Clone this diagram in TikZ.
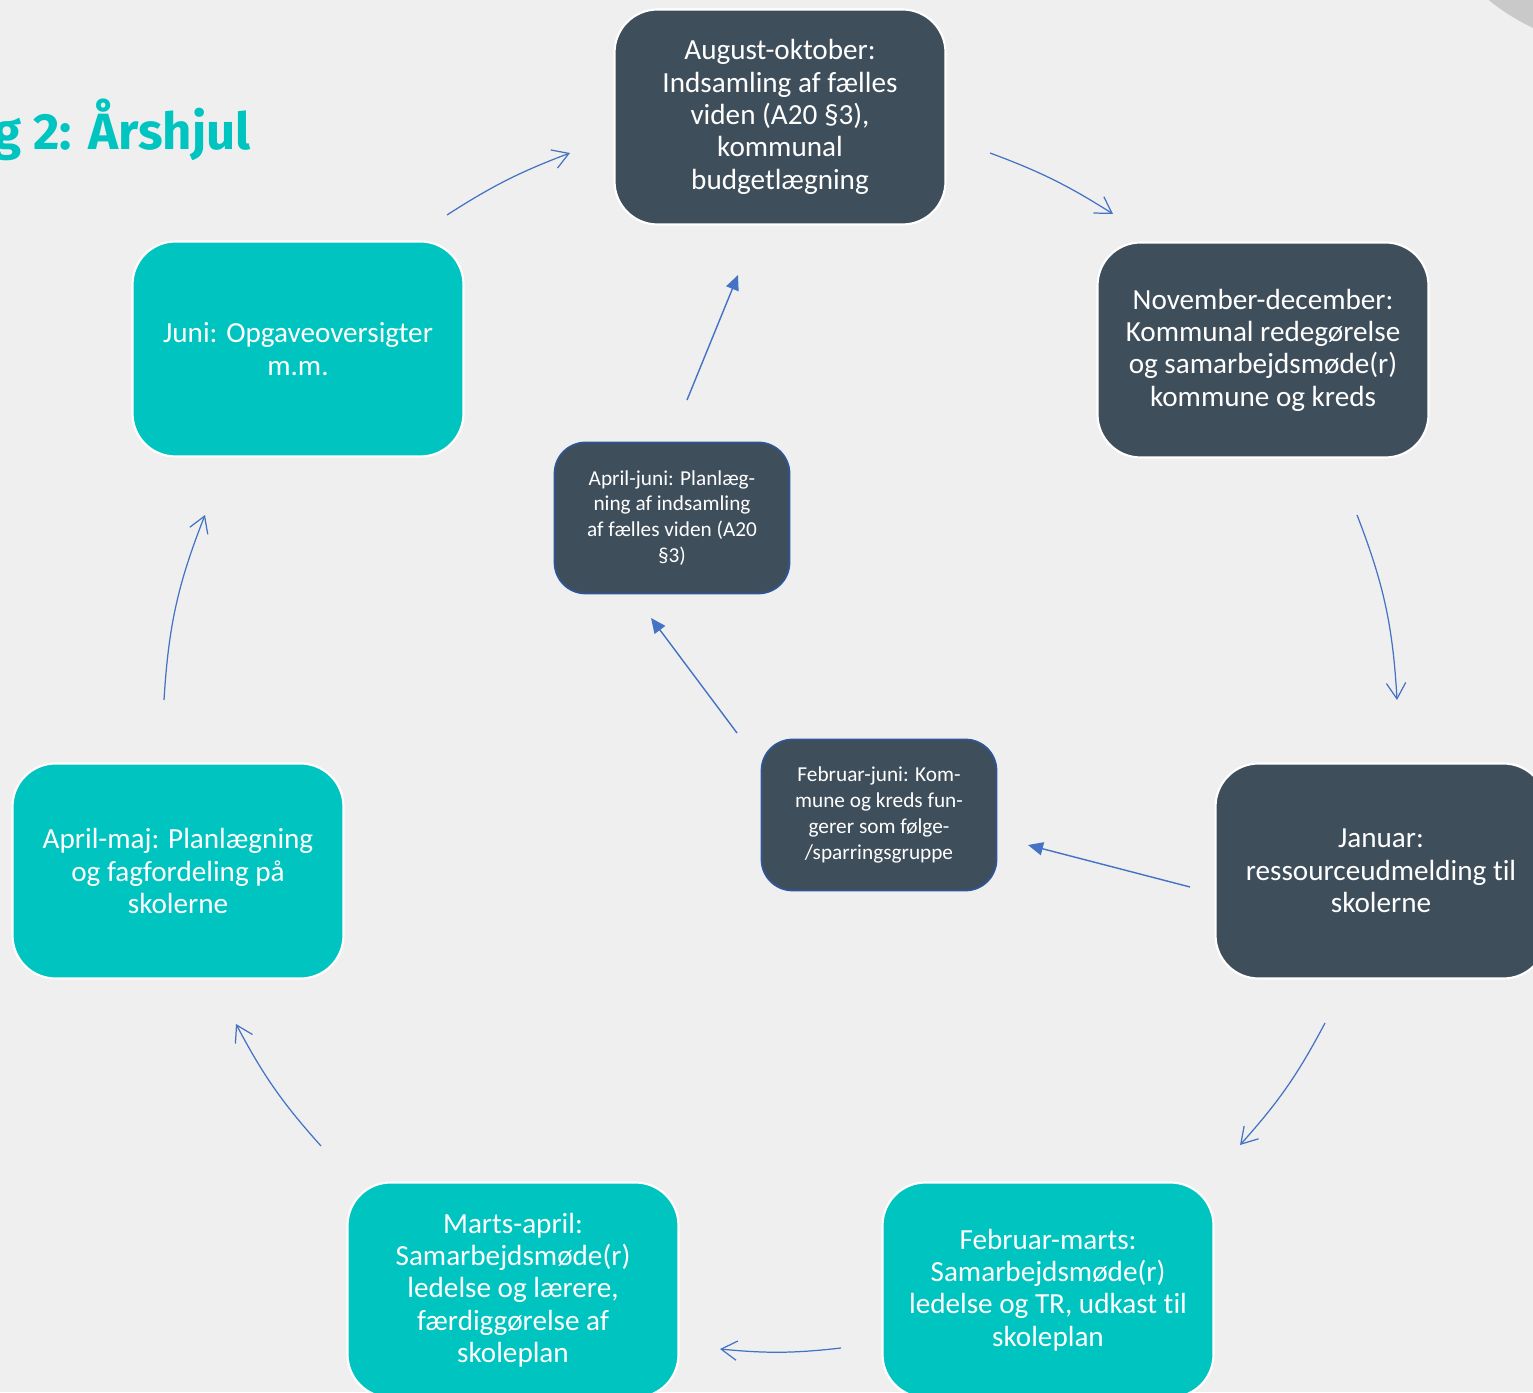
\documentclass[tikz,border=0pt]{standalone}
\usepackage{fontspec}
\setmainfont[Ligatures=NoCommon]{Carlito}
\newfontfamily\titlefont{Fira Sans}
\usetikzlibrary{arrows.meta}
\definecolor{bggray}{HTML}{EFEFEF}
\definecolor{slate}{HTML}{3F4E5B}
\definecolor{aqua}{HTML}{00C4C0}
\definecolor{arrowblue}{HTML}{4472C4}
\definecolor{edgeblue}{HTML}{2F5597}
\definecolor{discgray}{HTML}{C9C9C9}
\tikzset{
  bigbox/.style={rounded corners=0.86cm, draw=white, line width=1.2pt,
    minimum width=6.62cm, minimum height=4.3cm, inner sep=0pt,
    text=white, align=center, font=\fontsize{16.6}{18.4}\selectfont},
  darkbox/.style={bigbox, fill=slate},
  aquabox/.style={bigbox, fill=aqua},
  smallbox/.style={rounded corners=0.62cm, draw=edgeblue, line width=1pt,
    fill=slate, minimum width=4.7cm, minimum height=3.02cm, inner sep=0pt,
    text=white, align=center, font=\fontsize{12.1}{14.75}\selectfont},
  cyclearrow/.style={arrowblue, line width=0.7pt, -{Straight Barb[length=9pt,width=11pt]}},
  innerarrow/.style={arrowblue, line width=0.8pt, -{Triangle[length=8.5pt,width=7.5pt]}}
}
\begin{document}
\begin{tikzpicture}[x=0.02cm,y=0.02cm]
\useasboundingbox (0,0) rectangle (1533,1392);
\clip (0,0) rectangle (1533,1392);
\fill[bggray] (0,0) rectangle (1533,1392);
\fill[discgray] (1627,1563) circle[radius=220];
%% the title
\node[anchor=base west, text=aqua, inner sep=0pt,
  font=\titlefont\bfseries\fontsize{29}{34}\selectfont] (title) at (-7,1242) {g 2: Årshjul};
%% the outer ring
\node[darkbox] (aug) at (780,1275) {August-oktober:\\Indsamling af fælles\\viden (A20 §3),\\kommunal\\budgetlægning};
\node[darkbox] (nov) at (1263,1042) {November-december:\\Kommunal redegørelse\\og samarbejdsmøde(r)\\kommune og kreds};
\node[darkbox] (jan) at (1381,521) {Januar:\\ressourceudmelding til\\skolerne};
\node[aquabox] (febm) at (1048,102) {Februar-marts:\\Samarbejdsmøde(r)\\ledelse og TR, udkast til\\skoleplan};
\node[aquabox] (marts) at (513,102) {Marts-april:\\Samarbejdsmøde(r)\\ledelse og lærere,\\færdiggørelse af\\skoleplan};
\node[aquabox] (aprmaj) at (178,521) {April-maj: Planlægning\\og fagfordeling på\\skolerne};
\node[aquabox] (juni) at (298,1043) {Juni: Opgaveoversigter\\m.m.};
%% the inner boxes
\node[smallbox] (aprj) at (672,874) {April-juni: Planlæg-\\ning af indsamling\\af fælles viden (A20\\§3)};
\node[smallbox] (febj) at (879,577) {Februar-juni: Kom-\\mune og kreds fun-\\gerer som følge-\\/sparringsgruppe};
%% arrow ends
\coordinate (ja) at (447,1177); \coordinate (jb) at (570,1239);
\coordinate (aa) at (990,1239); \coordinate (ab) at (1113,1178);
\coordinate (na) at (1357,877); \coordinate (nb) at (1397,692);
\coordinate (ka) at (1325,369); \coordinate (kb) at (1240,247);
\coordinate (fa) at (841,44);   \coordinate (fb) at (720,43);
\coordinate (ma) at (321,246);  \coordinate (mb) at (236,368);
\coordinate (pa) at (164,692);  \coordinate (pb) at (205,877);
\coordinate (ia) at (1190,505); \coordinate (ib) at (1028,547);
\coordinate (ic) at (737,659);  \coordinate (id) at (651,774);
\coordinate (ie) at (687,992);  \coordinate (if) at (738,1117);
%% the ring arrows
\draw[cyclearrow] (ja) to[bend left=6] (jb);
\draw[cyclearrow] (aa) to[bend left=6] (ab);
\draw[cyclearrow] (na) to[bend left=9] (nb);
\draw[cyclearrow] (ka) to[bend left=7] (kb);
\draw[cyclearrow] (fa) to[bend left=6] (fb);
\draw[cyclearrow] (ma) to[bend left=7] (mb);
\draw[cyclearrow] (pa) to[bend left=9] (pb);
%% the inner arrows
\draw[innerarrow] (ia) -- (ib);
\draw[innerarrow] (ic) -- (id);
\draw[innerarrow] (ie) -- (if);
\end{tikzpicture}
\end{document}
